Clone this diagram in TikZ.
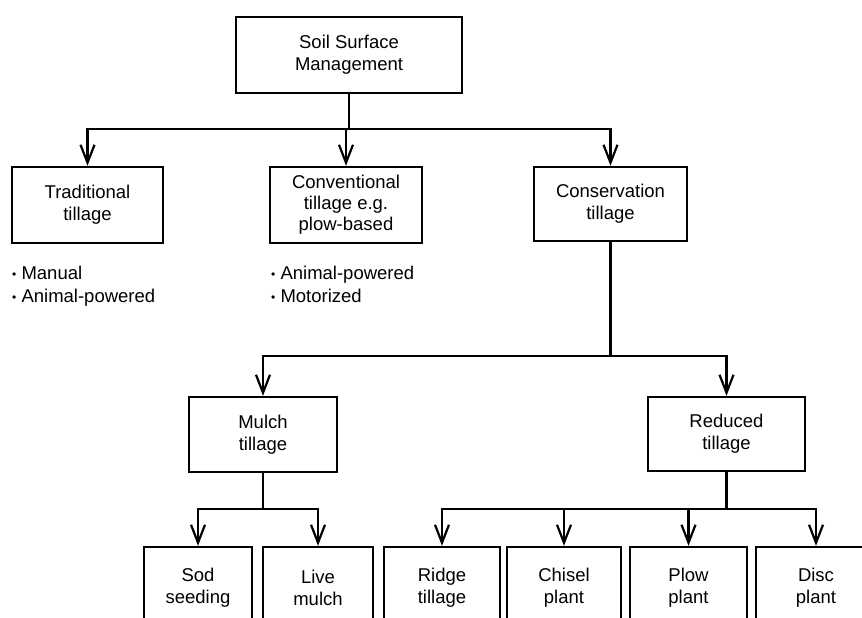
\documentclass[tikz,border=0pt]{standalone}
\usepackage{fontspec}
\setmainfont{Liberation Sans}
\usetikzlibrary{arrows.meta}
\newcommand{\bul}{{\fontsize{12}{12}\selectfont\raisebox{1pt}{•}}}
\begin{document}
\begin{tikzpicture}[x=1pt,y=-1pt,
  box/.style={draw, line width=2.4pt, rectangle, inner sep=0pt,
    align=center, font=\fontsize{18.5}{22}\selectfont},
  link/.style={line width=2.2pt},
  arr/.style={link, -{Straight Barb[length=18pt,width=14pt,line width=2.2pt]}},
  list/.style={align=left, anchor=north west, inner sep=0pt,
    font=\fontsize{18.5}{23}\selectfont}]
\path[use as bounding box] (0,0) rectangle (862,618);
\clip (0,0) rectangle (862,618);

% top level
\node[box, minimum width=226pt, minimum height=76pt] (root) at (349,55)
  {Soil Surface\\Management};

% second level
\node[box, minimum width=151pt, minimum height=76pt] (trad) at (87.5,205)
  {Traditional\\tillage};
\node[box, minimum width=152pt, minimum height=76pt, font=\fontsize{18.5}{21}\selectfont]
  (conv) at (346,205) {Conventional\\tillage e.g.\\plow-based};
\node[box, minimum width=153pt, minimum height=74pt] (cons) at (610.5,204)
  {Conservation\\tillage};

% implement lists
\node[list] (tradlist) at (12,266) {\bul\ Manual\\\bul\ Animal-powered};
\node[list] (convlist) at (271,266) {\bul\ Animal-powered\\\bul\ Motorized};

% third level
\node[box, minimum width=148pt, minimum height=75pt] (mulch) at (263,434.5)
  {Mulch\\tillage};
\node[box, minimum width=157pt, minimum height=74pt] (reduced) at (726.5,434)
  {Reduced\\tillage};

% bottom row (runs past the lower edge)
\node[box, minimum width=108pt, minimum height=81pt] (sod) at (198,587.5)
  {Sod\\seeding};
\node[box, minimum width=110pt, minimum height=81pt] (live) at (318,587.5)
  {Live\\mulch};
\node[box, minimum width=116pt, minimum height=81pt] (ridge) at (442,587.5)
  {Ridge\\tillage};
\node[box, minimum width=114pt, minimum height=81pt] (chisel) at (564,587.5)
  {Chisel\\plant};
\node[box, minimum width=117pt, minimum height=81pt] (plow) at (688.5,587.5)
  {Plow\\plant};
\node[box, minimum width=120pt, minimum height=81pt] (disc) at (816,587.5)
  {Disc\\plant};

% connectors
\foreach \c in {trad,conv,cons}
  \draw[arr] (root.south) -- ++(0,35) -| (\c.north);
\foreach \c in {mulch,reduced}
  \draw[arr] (cons.south) -- ++(0,114) -| (\c.north);
\foreach \c in {sod,live}
  \draw[arr] (mulch.south) -- ++(0,36) -| (\c.north);
\foreach \c in {ridge,chisel,plow,disc}
  \draw[arr] (reduced.south) -- ++(0,37) -| (\c.north);
\end{tikzpicture}
\end{document}
